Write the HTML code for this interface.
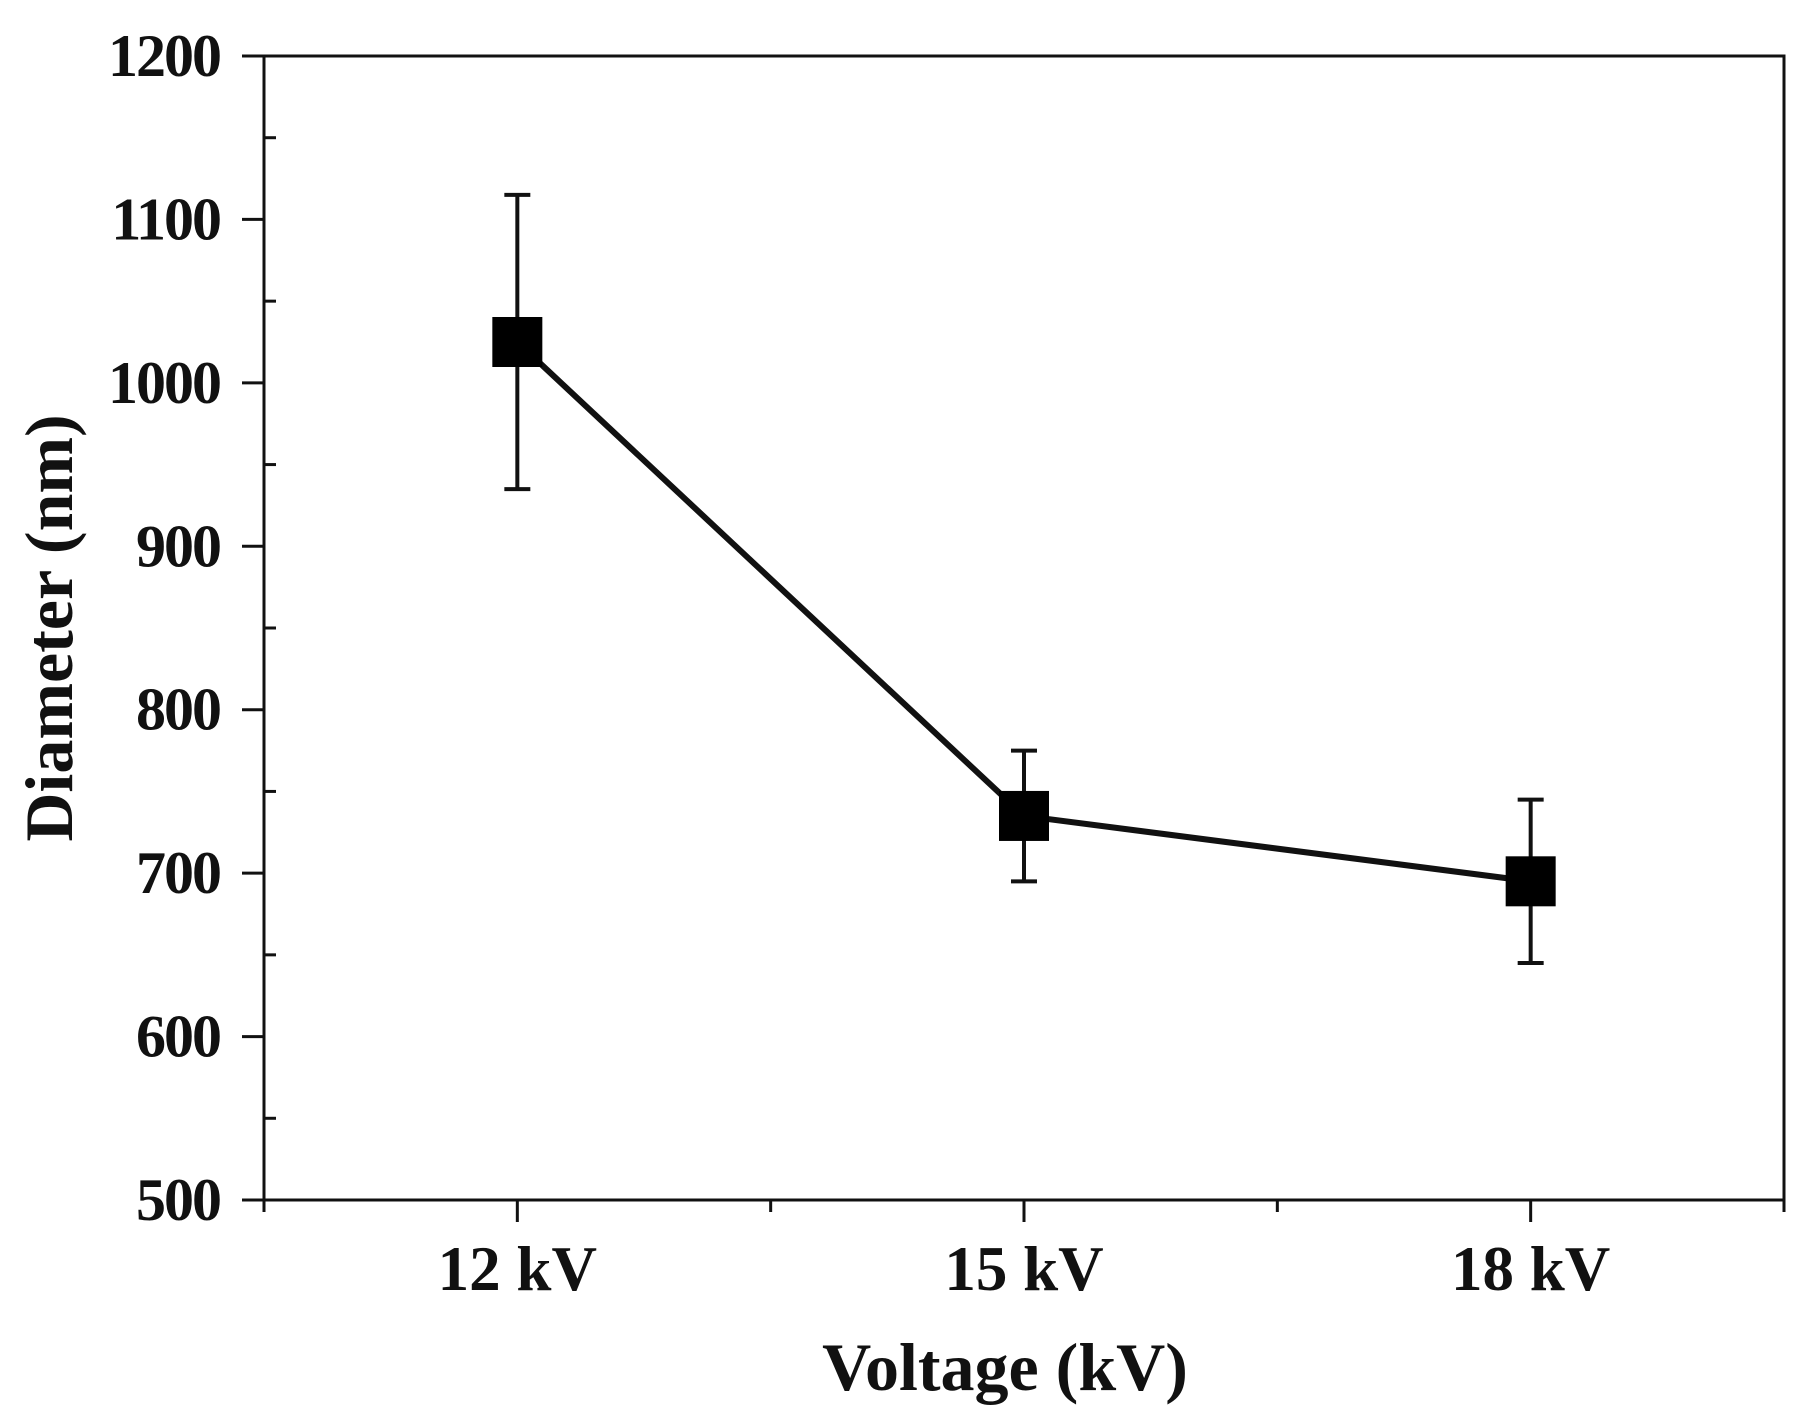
<!DOCTYPE html>
<html><head><meta charset="utf-8"><style>
html,body{margin:0;padding:0;background:#fff;}
svg{display:block;}
text{font-family:"Liberation Serif",serif;font-weight:bold;fill:#111;}
</style></head><body>
<svg id="chart" width="1808" height="1425" viewBox="0 0 1808 1425" xmlns="http://www.w3.org/2000/svg"></svg>
<script>
const categories = ["12 kV", "15 kV", "18 kV"];
const diameters = [1025, 735, 695];
const errUpper = [1115, 775, 745];
const errLower = [935, 695, 645];
const yTicks = [500, 600, 700, 800, 900, 1000, 1100, 1200];

const L = 264, R = 1784, T = 56, B = 1200;
const yMin = 500, yMax = 1200;
function yScale(v){ return B - (v - yMin) / (yMax - yMin) * (B - T); }
function xScale(i){ return L + (R - L) * (2 * i + 1) / 6; }
const svg = document.getElementById('chart');
const NS = 'http://www.w3.org/2000/svg';
function mk(tag, attrs, parent){
  const e = document.createElementNS(NS, tag);
  for (const k in attrs) e.setAttribute(k, attrs[k]);
  (parent || svg).appendChild(e);
  return e;
}
let e;
e = mk('rect', {x:L, y:T, width:R-L, height:B-T, fill:'none', stroke:'#111', 'stroke-width':3});



yTicks.forEach((v, i) => {
  const y = yScale(v);
  e = mk('line', {x1:L-22, x2:L, y1:y, y2:y, stroke:'#111', 'stroke-width':3});
  
  
  e = mk('text', {x:220, y:y+20, 'text-anchor':'end', 'font-size':60, 'letter-spacing':-2});
  e.textContent = v;
  
  
  if (i < yTicks.length - 1) {
    const ym = yScale(v + 50);
    e = mk('line', {x1:L, x2:L+12, y1:ym, y2:ym, stroke:'#111', 'stroke-width':3});
    
    
  }
});
for (let k = 0; k <= 6; k++) {
  const x = L + (R - L) * k / 6;
  const major = k % 2 === 1;
  e = mk('line', {x1:x, x2:x, y1:B, y2:B + (major ? 22 : 12), stroke:'#111', 'stroke-width':3});
  
  
}
categories.forEach((c, i) => {
  e = mk('text', {x:xScale(i), y:1290, 'text-anchor':'middle', 'font-size':63});
  e.textContent = c;
  
  
});
e = mk('text', {x:1005, y:1390, 'text-anchor':'middle', 'font-size':68});
e.textContent = 'Voltage (kV)';


e = mk('text', {x:0, y:0, 'text-anchor':'middle', 'font-size':68, transform:'translate(72,628) rotate(-90)'});
e.textContent = 'Diameter (nm)';



const pts = diameters.map((d, i) => xScale(i) + ',' + yScale(d)).join(' ');
e = mk('polyline', {points:pts, fill:'none', stroke:'#111', 'stroke-width':6});



diameters.forEach((d, i) => {
  const x = xScale(i);
  const g = mk('g', {});
  
  
  e = mk('line', {x1:x, x2:x, y1:yScale(errUpper[i]), y2:yScale(errLower[i]), stroke:'#111', 'stroke-width':4}, g);
  
  
  [errUpper[i], errLower[i]].forEach(v => {
    e = mk('line', {x1:x-13, x2:x+13, y1:yScale(v), y2:yScale(v), stroke:'#111', 'stroke-width':4}, g);
    
    
  });
  e = mk('rect', {x:x-25, y:yScale(d)-25, width:50, height:50, fill:'#000'}, g);
  
  
});
</script>
</body></html>
